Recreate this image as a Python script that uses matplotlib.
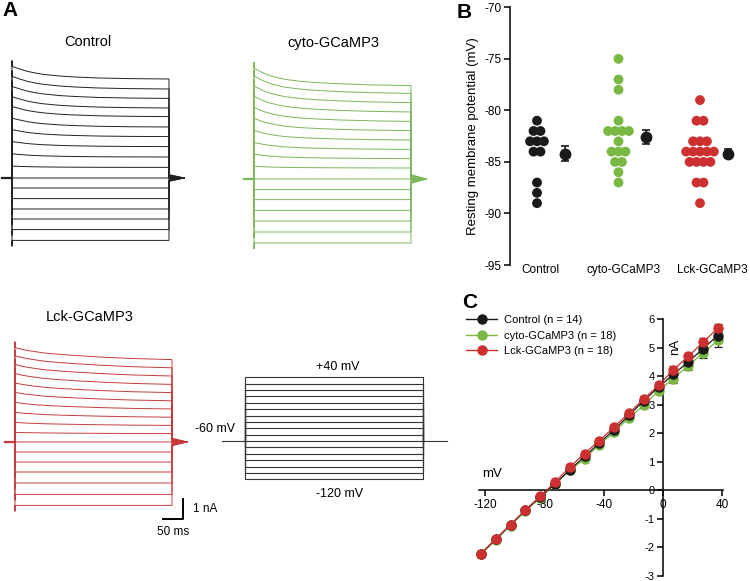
import numpy as np
import matplotlib
matplotlib.use("Agg")
import matplotlib.pyplot as plt
from matplotlib.lines import Line2D

plt.rcParams['font.family'] = ['Liberation Sans', 'DejaVu Sans']
plt.rcParams['axes.unicode_minus'] = False

# ---- data ----
step_mv = [-120, -110, -100, -90, -80, -70, -60, -50, -40, -30, -20, -10, 0, 10, 20, 30, 40]
hold_mv = -60

# steady-state current of each sweep relative to holding (nA), representative cells
ctrl_trace_nA = [-3.12, -2.58, -2.05, -1.55, -1.03, -0.50, 0.0, 0.53, 1.05, 1.57, 2.07, 2.55, 3.07, 3.50, 3.98, 4.45, 4.95]
cyto_trace_nA = [-3.20, -2.65, -2.10, -1.57, -1.03, -0.53, 0.0, 0.55, 1.02, 1.48, 1.95, 2.42, 2.88, 3.35, 3.82, 4.28, 4.67]
lck_trace_nA = [-3.17, -2.62, -2.05, -1.50, -1.00, -0.50, 0.0, 0.42, 0.83, 1.24, 1.65, 2.06, 2.47, 2.88, 3.30, 3.71, 4.12]

# initial decaying component: relative size per sweep, peak (nA) per group, envelope over the pulse
trans_weight = [0, 0, 0, 0, 0, 0, 0, 0.1, 0.25, 0.4, 0.55, 0.7, 0.8, 0.9, 0.95, 1.0, 1.0]
trans_peak = [0.63, 0.88, 0.60]
decay_frac = [0, 0.05, 0.1, 0.15, 0.2, 0.3, 0.4, 0.55, 0.75, 1.0]
ctrl_decay = [1.0, 0.79, 0.60, 0.47, 0.37, 0.24, 0.16, 0.08, 0.03, 0.0]
cyto_decay = [1.0, 0.75, 0.57, 0.45, 0.35, 0.24, 0.17, 0.10, 0.04, 0.0]
lck_decay = [1.0, 0.84, 0.72, 0.62, 0.53, 0.42, 0.33, 0.21, 0.09, 0.0]
tail_peak = [0.17, 0.22, 0.19]
pulse_ms = 400

groups = ['Control', 'cyto-GCaMP3', 'Lck-GCaMP3']
ctrl_rmp = [-81, -82, -82, -83, -83, -83, -84, -84, -87, -88, -89]
cyto_rmp = [-75, -77, -78, -81, -82, -82, -82, -82, -83, -84, -84, -84, -85, -85, -86, -87]
lck_rmp = [-79, -81, -81, -83, -83, -83, -84, -84, -84, -84, -84, -85, -85, -85, -85, -87, -87, -89]
rmp_mean = [-84.2, -82.6, -84.2]
rmp_sem = [0.7, 0.7, 0.45]

iv_mv = [-123, -113, -103, -93, -83, -73, -63, -53, -43, -33, -23, -13, -3, 7, 17, 27, 37]
iv_ctrl = [-2.22, -1.71, -1.20, -0.70, -0.23, 0.23, 0.72, 1.19, 1.66, 2.13, 2.63, 3.15, 3.62, 4.07, 4.50, 4.97, 5.43]
iv_cyto = [-2.24, -1.73, -1.23, -0.72, -0.26, 0.23, 0.70, 1.11, 1.61, 2.04, 2.55, 2.98, 3.50, 3.91, 4.38, 4.81, 5.26]
iv_lck = [-2.22, -1.69, -1.20, -0.68, -0.21, 0.29, 0.82, 1.29, 1.75, 2.22, 2.71, 3.21, 3.68, 4.23, 4.70, 5.19, 5.69]
iv_ctrl_sem = [0.10, 0.08, 0.07, 0.06, 0.05, 0.05, 0.05, 0.06, 0.07, 0.08, 0.09, 0.10, 0.12, 0.14, 0.16, 0.18, 0.22]
iv_cyto_sem = [0.10, 0.08, 0.07, 0.06, 0.05, 0.05, 0.05, 0.06, 0.07, 0.08, 0.09, 0.10, 0.12, 0.14, 0.16, 0.18, 0.22]
iv_lck_sem = [0.10, 0.08, 0.07, 0.06, 0.05, 0.05, 0.05, 0.06, 0.07, 0.08, 0.09, 0.10, 0.11, 0.12, 0.13, 0.14, 0.15]
iv_labels = ['Control (n = 14)', 'cyto-GCaMP3 (n = 18)', 'Lck-GCaMP3 (n = 18)']

BLACK = '#1a1a1a'
GREEN = '#78b843'
RED = '#cc3030'
TRACE_COLORS = ['#222222', '#7ab85a', '#c83a3a']

W, H = 750, 581
fig = plt.figure(figsize=(W / 100, H / 100), dpi=100)


def box_axes(x0, y0, x1, y1):
    # axes from a pixel box (top-left origin)
    return fig.add_axes([x0 / W, 1 - y1 / H, (x1 - x0) / W, (y1 - y0) / H])


def scaled_axes(ox, oy, sx, sy, xlim, ylim):
    # data (0,0) sits at pixel (ox, oy); sx, sy are pixels per data unit
    ax = box_axes(ox + xlim[0] * sx, oy - ylim[1] * sy, ox + xlim[1] * sx, oy - ylim[0] * sy)
    ax.set_xlim(xlim)
    ax.set_ylim(ylim)
    ax.axis('off')
    ax.patch.set_alpha(0)
    return ax


def ftext(x, y, s, **kw):
    fig.text(x / W, 1 - y / H, s, **kw)


# ---- A: current traces ----
px_ms = 0.3925
px_nA = 20.0
trace_sets = [ctrl_trace_nA, cyto_trace_nA, lck_trace_nA]
decays = [ctrl_decay, cyto_decay, lck_decay]
origins = [(12, 178), (254, 179), (15, 442)]
pre_ms, tail_ms = 25, 38

trace_axes = []
for g in range(3):
    ax = scaled_axes(origins[g][0], origins[g][1], px_ms, px_nA, (-40, 520), (-5, 7))
    trace_axes.append(ax)
    tails = np.linspace(-tail_peak[g], tail_peak[g], len(step_mv))
    for k, v in enumerate(step_mv):
        steady = trace_sets[g][k]
        amp = trans_peak[g] * trans_weight[k]
        spike = 0.3 * np.sign(v - hold_mv)
        ts = [-pre_ms, 0, 0] + [f * pulse_ms for f in decay_frac] + [pulse_ms, pulse_ms + tail_ms]
        ys = [0, 0, steady + amp + spike] + [steady + amp * d for d in decays[g]] + [tails[k], 0]
        ax.plot(ts, ys, color=TRACE_COLORS[g], lw=0.7, solid_joinstyle='miter')
    ax.plot([-pre_ms, 0], [0, 0], color=TRACE_COLORS[g], lw=1.6)

ftext(88, 42, 'Control', fontsize=10.5, ha='center', va='center')
ftext(333, 43, 'cyto-GCaMP3', fontsize=10.5, ha='center', va='center')
ftext(90, 317, 'Lck-GCaMP3', fontsize=10.5, ha='center', va='center')

# scale bar on the Lck panel
sb = trace_axes[2]
sb.plot([pulse_ms - 22, pulse_ms + 28, pulse_ms + 28], [-3.85, -3.85, -2.85], color='black', lw=1.4)
ftext(193, 509, '1 nA', fontsize=8.5, ha='left', va='center')
ftext(173, 532, '50 ms', fontsize=8.5, ha='center', va='center')

# voltage protocol
pax = scaled_axes(245, 402.75, 0.445, 0.6375, (-60, 470), (-140, 60))
for v in step_mv:
    pax.plot([0, 0, pulse_ms, pulse_ms], [hold_mv, v, v, hold_mv], color='#333333', lw=0.8)
pax.plot([-52, 0], [hold_mv, hold_mv], color='#333333', lw=0.8)
pax.plot([pulse_ms, pulse_ms + 54], [hold_mv, hold_mv], color='#333333', lw=0.8)
ftext(338, 367, '+40 mV', fontsize=9, ha='center', va='center')
ftext(340, 494, '-120 mV', fontsize=9, ha='center', va='center')
ftext(235, 429, '-60 mV', fontsize=9, ha='right', va='center')

ftext(2, 11, 'A', fontsize=15, fontweight='bold', ha='left', va='center')

# ---- B: resting membrane potential ----
axb = box_axes(510, 7.3, 748, 265)
axb.set_xlim(-27 / 81.5, 211 / 81.5)
axb.set_ylim(-95, -70)
rmp_sets = [ctrl_rmp, cyto_rmp, lck_rmp]
dot_colors = [BLACK, GREEN, RED]
for g, vals in enumerate(rmp_sets):
    vals = np.array(vals)
    xs = np.zeros(len(vals))
    for u in np.unique(vals):
        idx = np.where(vals == u)[0]
        xs[idx] = g + (np.arange(len(idx)) - (len(idx) - 1) / 2) * 0.085
    axb.scatter(xs, vals, s=50, color=dot_colors[g], edgecolors='none', zorder=3, clip_on=False)
    axb.errorbar(g + 0.34, rmp_mean[g], yerr=rmp_sem[g], fmt='o', color=BLACK,
                 markersize=7.5, capsize=3, elinewidth=1.2, capthick=1.2, zorder=4)
for s in ['top', 'right', 'bottom']:
    axb.spines[s].set_visible(False)
axb.spines['left'].set_linewidth(1.1)
axb.set_yticks(range(-95, -69, 5))
axb.tick_params(axis='y', direction='out', length=4, width=1.1, labelsize=8.5, pad=2)
axb.set_xticks([0.04, 1.06, 2.15])
axb.set_xticklabels(groups)
axb.tick_params(axis='x', length=0, labelsize=8.5, pad=-1)
axb.set_ylabel('Resting membrane potential (mV)', fontsize=9.5, labelpad=4)
ftext(457, 13, 'B', fontsize=15, fontweight='bold', ha='left', va='center')

# ---- C: I-V relationship ----
axc = box_axes(470.6, 319.3, 737, 576)
axc.set_xlim(-130, 50)
axc.set_ylim(-3, 6)
iv_sets = [(iv_cyto, iv_cyto_sem, GREEN), (iv_ctrl, iv_ctrl_sem, BLACK), (iv_lck, iv_lck_sem, RED)]
for vals, sem, col in iv_sets:
    axc.errorbar(iv_mv, vals, yerr=sem, color=col, lw=0.9, marker='o', markersize=6.5,
                 ecolor=BLACK, elinewidth=0.9, capsize=3, capthick=0.9, clip_on=False, zorder=3)
axc.spines['left'].set_position(('data', 0))
axc.spines['bottom'].set_position(('data', 0))
axc.spines['top'].set_visible(False)
axc.spines['right'].set_visible(False)
axc.spines['bottom'].set_bounds(-124.5, 40.5)
axc.spines['left'].set_bounds(-3, 6)
for s in ['left', 'bottom']:
    axc.spines[s].set_linewidth(1.1)
axc.set_xticks([-120, -80, -40, 0, 40])
axc.set_yticks(range(-3, 7))
axc.tick_params(direction='out', length=4, width=1.1, labelsize=8.5, pad=2)
axc.tick_params(axis='y', labelsize=8)
axc.text(-122, 0.35, 'mV', fontsize=9.5, ha='left', va='bottom')
axc.text(8, 5.05, 'nA', fontsize=9.5, rotation=90, ha='center', va='center')

handles = [Line2D([0], [0], color=c, lw=1, marker='o', markersize=6.5)
           for c in [BLACK, GREEN, RED]]
fig.legend(handles, iv_labels, loc='upper left', bbox_to_anchor=(466 / W, 1 - 315 / H),
           frameon=False, fontsize=8, handlelength=2.8, handletextpad=0.6,
           labelspacing=0.5, borderpad=0, borderaxespad=0)
ftext(462, 303, 'C', fontsize=15, fontweight='bold', ha='left', va='center')

fig.savefig('out.png', dpi=100)
